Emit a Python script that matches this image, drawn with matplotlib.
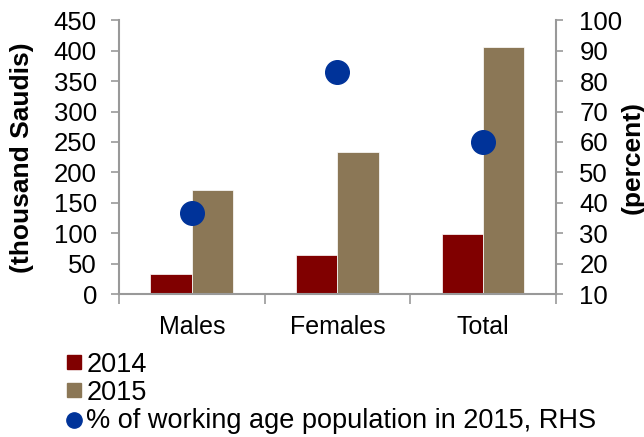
import matplotlib.pyplot as plt
import numpy as np
from matplotlib.lines import Line2D
from matplotlib.patches import Patch

plt.rcParams['font.family'] = ['Liberation Sans', 'DejaVu Sans']

categories = ["Males", "Females", "Total"]
v2014 = [34, 64, 99]
v2015 = [171, 234, 406]
pct_working = [36.8, 82.9, 60]

c2014 = "#800000"
c2015 = "#8B7756"
cdot = "#003399"
gray = "#999999"

fig = plt.figure(figsize=(6.44, 4.37), dpi=100)
ax = fig.add_axes([0.185, 0.3265, 0.678, 0.6275])
x = np.arange(len(categories))
w = 0.285
ax.bar(x - w / 2, v2014, w, color=c2014, edgecolor="white", linewidth=0.5, zorder=2)
ax.bar(x + w / 2, v2015, w, color=c2015, edgecolor="white", linewidth=0.5, zorder=2)
ax.set_xlim(-0.5, 2.5)
ax.set_ylim(0, 450)
ax.set_yticks(range(0, 451, 50))
ax.set_xticks([-0.5, 0.5, 1.5, 2.5])
ax.set_xticklabels([])
ax.set_xticks(x, minor=True)
ax.set_xticklabels(categories, minor=True)
ax.tick_params(axis="x", which="minor", length=0, pad=15, labelsize=18)
ax.tick_params(axis="x", which="major", length=7, width=1.2, color=gray, direction="out")
ax.tick_params(axis="y", length=6, width=1.2, color=gray, labelsize=18.5, pad=10)
for s in ["top", "right"]:
    ax.spines[s].set_visible(False)
for s in ["left", "bottom"]:
    ax.spines[s].set_color(gray)
    ax.spines[s].set_linewidth(1.5)
ax.set_ylabel("(thousand Saudis)", fontsize=19, fontweight="bold", labelpad=14)

ax2 = ax.twinx()
ax2.plot(x, pct_working, "o", color=cdot, markersize=17, linestyle="none", zorder=3)
ax2.set_ylim(10, 100)
ax2.set_yticks(range(10, 101, 10))
ax2.tick_params(axis="y", length=5, width=1.2, color=gray, labelsize=18.5, pad=12)
for s in ["top", "left", "bottom"]:
    ax2.spines[s].set_visible(False)
ax2.spines["right"].set_color(gray)
ax2.spines["right"].set_linewidth(1.5)
ax2.set_ylabel("(percent)", fontsize=19, fontweight="bold", labelpad=-1)

handles = [
    Patch(color=c2014, label="2014"),
    Patch(color=c2015, label="2015"),
    Line2D([], [], marker="o", color=cdot, linestyle="none", markersize=11,
           label="% of working age population in 2015, RHS"),
]
fig.legend(handles=handles, loc="upper left", bbox_to_anchor=(0.104, 0.195),
           frameon=False, fontsize=19.5, handlelength=0.52, handleheight=0.41,
           handletextpad=0.2, labelspacing=0.08, borderpad=0, borderaxespad=0)

fig.savefig("out.png", dpi=100)
